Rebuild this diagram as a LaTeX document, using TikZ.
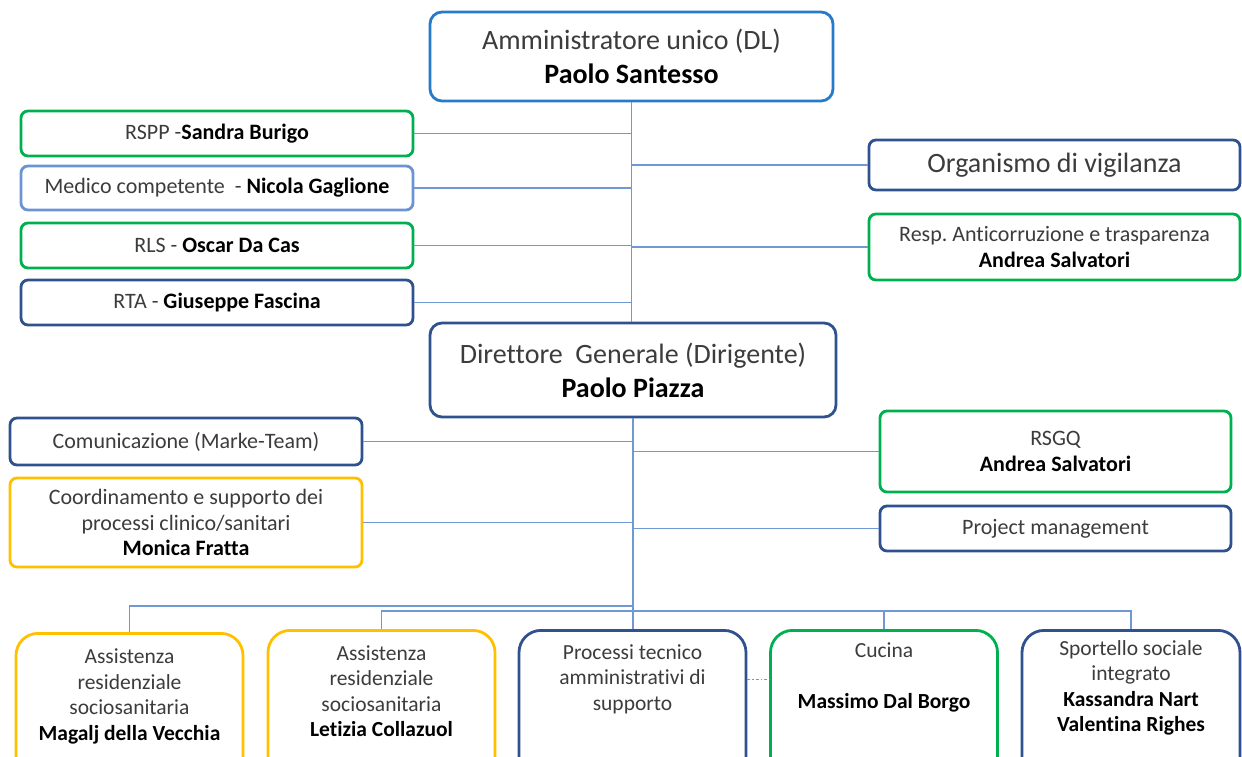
\documentclass[tikz,border=0pt]{standalone}
\usepackage{fontspec}
\setmainfont{Carlito}[Ligatures=NoCommon]
\frenchspacing

\definecolor{txtgray}{RGB}{60,60,60}
\definecolor{aublue}{RGB}{38,122,202}
\definecolor{darkblue}{RGB}{47,82,143}
\definecolor{medblue}{RGB}{106,148,210}
\definecolor{okgreen}{RGB}{0,176,80}
\definecolor{amber}{RGB}{255,192,0}
\definecolor{linkblue}{RGB}{112,152,212}

\newcommand{\nm}[1]{\textbf{\color{black}#1}}

\begin{document}
\begin{tikzpicture}[x=1pt, y=-1pt,
    box/.style={draw, rounded corners=7pt, line width=2.8pt, fill=white, align=center,
      text=txtgray, inner sep=0pt, font=\fontsize{22}{25.5}\selectfont},
    big/.style={box, rounded corners=12pt, font=\fontsize{28}{34}\selectfont},
    unit/.style={box, rounded corners=22pt, minimum width=227pt, minimum height=150pt, anchor=north},
    lbl/.style={align=center, text=txtgray, inner sep=0pt, font=\fontsize{21.5}{25.5}\selectfont},
    conn/.style={draw=linkblue, line width=1.3pt}]

    \clip (0,0) rectangle (1242,756);

    % top level
    \node[big, draw=aublue, minimum width=403pt, minimum height=89pt] (au) at (631.5,56.5)
        {Amministratore unico (DL)\\ \nm{Paolo Santesso}};

    % staff of the administrator
    \node[box, draw=okgreen, minimum width=392pt, minimum height=45pt] (rspp) at (217,133.5)
        {RSPP -\nm{Sandra Burigo}};
    \node[box, draw=medblue, minimum width=392pt, minimum height=44pt] (medico) at (217,188)
        {Medico competente\ \ - \nm{Nicola Gaglione}};
    \node[box, draw=okgreen, minimum width=392pt, minimum height=45pt] (rls) at (217,245.5)
        {RLS - \nm{Oscar Da Cas}};
    \node[box, draw=darkblue, minimum width=392pt, minimum height=45pt] (rta) at (217,302.5)
        {RTA - \nm{Giuseppe Fascina}};
    \node[box, draw=darkblue, minimum width=371pt, minimum height=50pt,
          font=\fontsize{28}{34}\selectfont] (odv) at (1054.5,165) {Organismo di vigilanza};
    \node[box, draw=okgreen, minimum width=371pt, minimum height=66pt] (anti) at (1054.5,247)
        {Resp. Anticorruzione\ e trasparenza\\ \nm{Andrea Salvatori}};

    % general manager
    \node[big, draw=darkblue, minimum width=406pt, minimum height=94pt] (dg) at (633,370)
        {Direttore\ \ Generale (Dirigente)\\ \nm{Paolo Piazza}};

    % staff of the general manager
    \node[box, draw=darkblue, minimum width=352pt, minimum height=47pt] (com) at (186,441.5)
        {Comunicazione\ (Marke-Team)};
    \node[box, draw=amber, minimum width=352pt, minimum height=89pt] (coord) at (186,522.5)
        {Coordinamento\ e supporto dei\\ processi clinico/sanitari\\ \nm{Monica Fratta}};
    \node[box, draw=okgreen, minimum width=351pt, minimum height=81pt] (rsgq) at (1055.5,451.5)
        {RSGQ\\ \nm{Andrea Salvatori}};
    \node[box, draw=darkblue, minimum width=351pt, minimum height=45pt] (pm) at (1055.5,528.5)
        {Project management};

    % operating units
    \node[unit, draw=amber] (b1) at (129.5,632) {};
    \node[unit, draw=amber] (b2) at (381.5,629) {};
    \node[unit, draw=darkblue] (b3) at (632.5,629) {};
    \node[unit, draw=okgreen] (b4) at (884,629) {};
    \node[unit, draw=darkblue, minimum width=218pt] (b5) at (1131,629) {};

    \node[lbl] (b1t) at (129.5,696.5)
        {Assistenza\\ residenziale\\ sociosanitaria\\ \nm{Magalj della Vecchia}};
    \node[lbl] (b2t) at (381.5,691)
        {Assistenza\\ residenziale\\ sociosanitaria\\ \nm{Letizia Collazuol}};
    \node[lbl] (b3t) at (632.5,679)
        {Processi tecnico\\ amministrativi di\\ supporto};
    \node[lbl] (b4t) at (884,677.5)
        {Cucina\\ \mbox{}\\ \nm{Massimo Dal Borgo}};
    \node[lbl] (b5t) at (1131,688)
        {Sportello sociale\\ integrato\\ \nm{Kassandra Nart}\\ \nm{Valentina Righes}};

    \coordinate (busA) at (0,606);
    \coordinate (busB) at (0,611);

    % connectors
    \draw[conn] (au.south) -- (au.south |- dg.north);
    \foreach \n in {rspp,medico,rls,rta}
        \draw[conn] (\n.east) -- (\n.east -| au.south);
    \foreach \n in {odv,anti}
        \draw[conn] (\n.west) -- (\n.west -| au.south);

    \draw[conn] (dg.south) -- (dg.south |- b3.north);
    \foreach \n in {com,coord}
        \draw[conn] (\n.east) -- (\n.east -| dg.south);
    \foreach \n in {rsgq,pm}
        \draw[conn] (\n.west) -- (\n.west -| dg.south);
    \foreach \n/\b in {b1/busA,b2/busB,b4/busB,b5/busB}
        \draw[conn] (\n.north) |- (dg.south |- \b);

    \draw[conn, dashdotted, line width=1pt] (b3.east |- b3t) -- (b4.west |- b3t);
\end{tikzpicture}
\end{document}
